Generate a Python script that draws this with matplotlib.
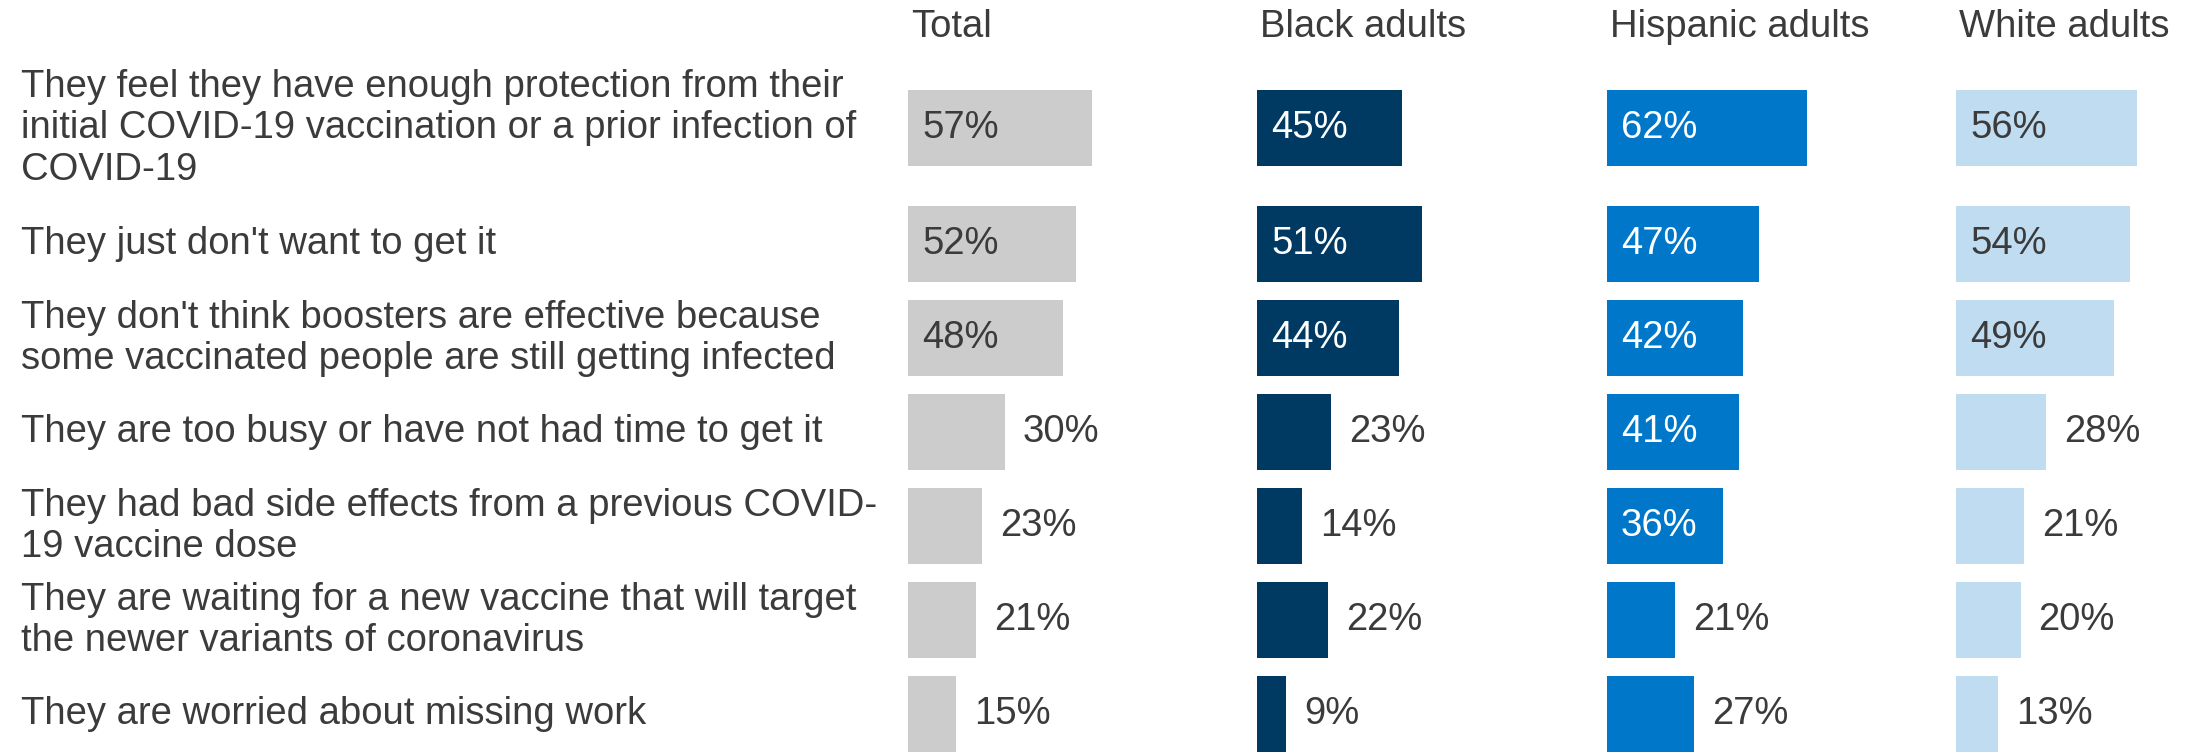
"""
Reasons for not getting a COVID-19 booster, by race/ethnicity
─────────────────────────────────────────────
Four side-by-side horizontal bar groups sharing one set of row labels.
"""
import matplotlib
matplotlib.use('Agg')
import matplotlib.pyplot as plt
import matplotlib.transforms as mtransforms

# ==========================================
# Data
# ==========================================
reasons = [
    "They feel they have enough protection from their\n"
    "initial COVID-19 vaccination or a prior infection of\nCOVID-19",
    "They just don't want to get it",
    "They don't think boosters are effective because\n"
    "some vaccinated people are still getting infected",
    "They are too busy or have not had time to get it",
    "They had bad side effects from a previous COVID-\n19 vaccine dose",
    "They are waiting for a new vaccine that will target\n"
    "the newer variants of coronavirus",
    "They are worried about missing work",
]
groups   = ['Total', 'Black adults', 'Hispanic adults', 'White adults']
total    = [57, 52, 48, 30, 23, 21, 15]
black    = [45, 51, 44, 23, 14, 22, 9]
hispanic = [62, 47, 42, 41, 36, 21, 27]
white    = [56, 54, 49, 28, 21, 20, 13]

# ==========================================
# Style / layout
# ==========================================
W, H      = 2191, 755
FS        = 27.5
TXT       = '#3b3b3b'
COLORS    = ['#cccccc', '#003a63', '#0077c8', '#bfdcf0']
IN_COLORS = [TXT, 'white', 'white', TXT]
COL_LEFT  = [908, 1257, 1607, 1956]   # px, left edge of each bar group
PX_PCT    = 3.23                      # px per percentage point
AX_W      = 230                       # px
INSIDE_MIN = 35                       # bars >= this get label inside

# row centres: unit spacing, extra gap after 3-line labels
ROW_PX   = 94
FIRST_PX = 128.5
rows = []
y = 0.0
for i, lab in enumerate(reasons):
    rows.append(y)
    y += 1.0 + (0.234 if lab.count('\n') >= 2 else 0.0)
y_top = -FIRST_PX / ROW_PX
y_bot = (H - FIRST_PX) / ROW_PX
BAR_H = 76 / ROW_PX

plt.rcParams['font.family'] = ['Liberation Sans', 'DejaVu Sans']

fig = plt.figure(figsize=(W / 100, H / 100), dpi=100)

series = [total, black, hispanic, white]
axes = []
for k, (name, vals) in enumerate(zip(groups, series)):
    ax = fig.add_axes([COL_LEFT[k] / W, 0, AX_W / W, 1])
    ax.set_xlim(0, AX_W / PX_PCT)
    ax.set_ylim(y_bot, y_top)
    ax.axis('off')
    ax.barh(rows, vals, height=BAR_H, color=COLORS[k], left=0)
    for yy, v in zip(rows, vals):
        if v >= INSIDE_MIN:
            ax.text(14 / PX_PCT, yy, f'{v}%', color=IN_COLORS[k],
                    fontsize=FS, va='center', ha='left')
        else:
            ax.text(v + 18 / PX_PCT, yy, f'{v}%', color=TXT,
                    fontsize=FS, va='center', ha='left')
    hdr = mtransforms.blended_transform_factory(ax.transData, ax.transAxes)
    ax.text(3 / PX_PCT, 1 - 27 / H, name, transform=hdr, clip_on=False,
            color=TXT, fontsize=FS, va='center', ha='left')
    axes.append(ax)

# row labels on the left
trans = mtransforms.blended_transform_factory(fig.transFigure, axes[0].transData)
for yy, lab in zip(rows, reasons):
    axes[0].text(21 / W, yy, lab, transform=trans, color=TXT, fontsize=FS,
                 va='center', ha='left', linespacing=1.2, clip_on=False)

fig.savefig('out.png', dpi=100)
